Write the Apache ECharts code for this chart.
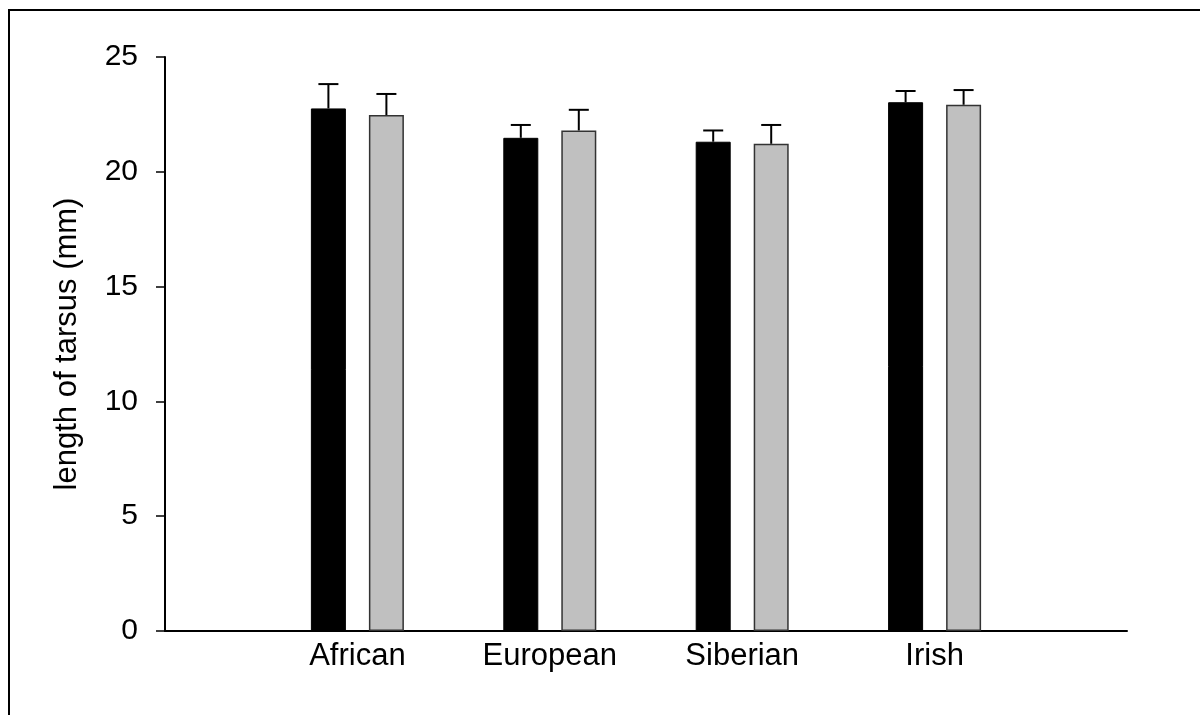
<!DOCTYPE html>
<html>
<head>
<meta charset="utf-8">
<style>
  html, body { margin: 0; padding: 0; background: #fff; }
  #chart { width: 1200px; height: 715px; }
</style>
<script src="https://cdn.jsdelivr.net/npm/echarts@6/dist/echarts.min.js"></script>
</head>
<body>
<div id="chart"></div>
<script>
// ---- data ----
const categories = ['African', 'European', 'Siberian', 'Irish'];
const blackMeans = [22.76, 21.48, 21.31, 23.03];
const blackErr   = [1.06, 0.56, 0.49, 0.49];
const grayMeans  = [22.47, 21.80, 21.22, 22.92];
const grayErr    = [0.92, 0.90, 0.82, 0.64];
const yTicks = [0, 5, 10, 15, 20, 25];

// ---- layout constants ----
const FONT = '"Liberation Sans", Arial, Helvetica, sans-serif';
const BAR_W = 35;
const GAP_PX = 23;
const OFFSET = (BAR_W + GAP_PX) / 2;
const CAP_W = 20;

const axisCats = [''].concat(categories, ['']);
const pad = arr => ['-'].concat(arr, ['-']);

function errSeries(means, errs, dir) {
  const data = means.map((m, i) => [i + 1, m, m + errs[i]]);
  return {
    type: 'custom',
    z: 5,
    silent: true,
    data: data,
    encode: { x: 0, y: [1, 2] },
    renderItem: function (params, api) {
      const c = api.value(0);
      const lo = api.coord([c, api.value(1)]);
      const hi = api.coord([c, api.value(2)]);
      const x = lo[0] + dir * OFFSET;
      const style = { stroke: '#000', lineWidth: 2 };
      return {
        type: 'group',
        children: [
          { type: 'line', shape: { x1: x, y1: lo[1], x2: x, y2: hi[1] }, style: style },
          { type: 'line', shape: { x1: x - CAP_W / 2, y1: hi[1], x2: x + CAP_W / 2, y2: hi[1] }, style: style }
        ]
      };
    }
  };
}

const chart = echarts.init(document.getElementById('chart'), null, { renderer: 'canvas' });
chart.setOption({
  animation: false,
  backgroundColor: '#fff',
  textStyle: { fontFamily: FONT },
  graphic: [{
    type: 'polyline',
    shape: { points: [[9, 800], [9, 10], [1300, 10]] },
    style: { fill: 'none', stroke: '#000', lineWidth: 2 },
    silent: true
  }],
  grid: { left: 165, right: 73, top: 57, bottom: 84 },
  xAxis: {
    type: 'category',
    data: axisCats,
    boundaryGap: false,
    axisLine: { show: true, lineStyle: { color: '#000', width: 2 } },
    axisTick: { show: false },
    axisLabel: { color: '#000', fontSize: 31, fontFamily: FONT, margin: 10, interval: 0 },
    splitLine: { show: false }
  },
  yAxis: {
    type: 'value',
    min: yTicks[0],
    max: yTicks[yTicks.length - 1],
    interval: yTicks[1] - yTicks[0],
    name: 'length of tarsus (mm)',
    nameLocation: 'middle',
    nameRotate: 90,
    nameGap: 82,
    nameTextStyle: { color: '#000', fontSize: 31, fontFamily: FONT },
    axisLine: { show: true, lineStyle: { color: '#000', width: 2 } },
    axisTick: { show: true, inside: false, length: 9, lineStyle: { color: '#000', width: 1.5 } },
    axisLabel: { color: '#000', fontSize: 30, fontFamily: FONT, margin: 27 },
    splitLine: { show: false }
  },
  series: [
    {
      type: 'bar',
      data: pad(blackMeans),
      barWidth: BAR_W,
      barGap: (GAP_PX / BAR_W * 100) + '%',
      itemStyle: { color: '#000', borderColor: '#000', borderWidth: 1 }
    },
    {
      type: 'bar',
      data: pad(grayMeans),
      barWidth: BAR_W,
      itemStyle: { color: '#c0c0c0', borderColor: '#333', borderWidth: 1.5 }
    },
    errSeries(blackMeans, blackErr, -1),
    errSeries(grayMeans, grayErr, 1)
  ]
});
</script>
</body>
</html>
